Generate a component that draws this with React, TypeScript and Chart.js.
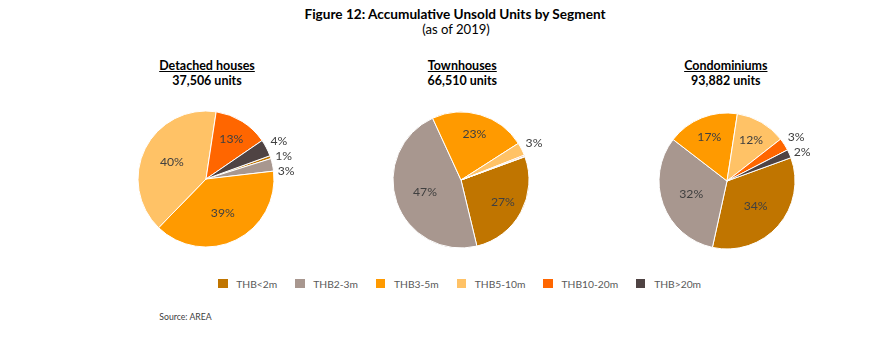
import React, { useEffect, useRef } from "react";
import { Chart, registerables } from "chart.js";

Chart.register(...registerables);

const categories = ["THB<2m", "THB2-3m", "THB3-5m", "THB5-10m", "THB10-20m", "THB>20m"];
const colors = ["#C07500", "#A8978F", "#FF9A00", "#FFC266", "#FF6600", "#4F4343"];
const detachedValues = [0.7, 3, 39, 40, 13, 4];
const townhouseValues = [26.8, 46.9, 22.8, 3.1, 0.3, 0.1];
const condoValues = [34, 32, 17, 12, 3, 2];
const segmentNames = ["Detached houses", "Townhouses", "Condominiums"];
const segmentUnits = ["37,506 units", "66,510 units", "93,882 units"];
const titleText = "Figure 12: Accumulative Unsold Units by Segment";
const subtitleText = "(as of 2019)";
const sourceText = "Source: AREA";

const FAMILY = "Lato";
const ASC = 0.987; // Lato ascent ratio

const measureCtx = document.createElement("canvas").getContext("2d") as CanvasRenderingContext2D;
function fitSize(text: string, weight: number, target: number) {
  measureCtx.font = `${weight} 100px ${FAMILY}`;
  const w = measureCtx.measureText(text).width;
  return (100 * target) / w;
}

const titleSize = fitSize(titleText, 700, 302);
const subtitleSize = fitSize(subtitleText, 400, 68);
const headSize = fitSize("Detached houses", 700, 95.7);
const legendSize = fitSize("THB<2m", 400, 41);
const sourceSize = fitSize(sourceText, 400, 52.7);
const pieLabelSize = fitSize("40%", 400, 24);

const labelPlugin = {
  id: "pctLabels",
  afterDatasetsDraw(chart: any) {
    const ctx = chart.ctx;
    const meta = chart.getDatasetMeta(0);
    const data = chart.data.datasets[0].data as number[];
    const total = data.reduce((a, b) => a + b, 0);
    ctx.save();
    ctx.font = `${pieLabelSize}px ${FAMILY}`;
    ctx.fillStyle = "#404040";
    ctx.textBaseline = "middle";
    ctx.textAlign = "center";
    const outside: { text: string; x: number; y: number }[] = [];
    meta.data.forEach((arc: any, i: number) => {
      const p = arc.getProps(["x", "y", "startAngle", "endAngle", "outerRadius"], true);
      const pct = Math.round((data[i] / total) * 100);
      if (pct < 1) return;
      const mid = (p.startAngle + p.endAngle) / 2;
      const text = pct + "%";
      if (pct >= 10) {
        const r = p.outerRadius * (pct >= 30 ? 0.56 : 0.7);
        ctx.fillText(text, p.x + r * Math.cos(mid), p.y + r * Math.sin(mid));
      } else {
        const r = p.outerRadius + 14;
        outside.push({ text, x: p.x + r * Math.cos(mid), y: p.y + r * Math.sin(mid) });
      }
    });
    outside.sort((a, b) => a.y - b.y);
    for (let k = 1; k < outside.length; k++) {
      if (outside[k].y - outside[k - 1].y < 15) outside[k].y = outside[k - 1].y + 15;
    }
    outside.forEach((o) => ctx.fillText(o.text, o.x, o.y));
    ctx.restore();
  },
};

function Pie({ values, cx, cy }: { values: number[]; cx: number; cy: number }) {
  const ref = useRef<HTMLCanvasElement>(null);
  useEffect(() => {
    const chart = new Chart(ref.current as HTMLCanvasElement, {
      type: "pie",
      data: {
        labels: categories,
        datasets: [
          {
            data: values,
            backgroundColor: colors,
            borderColor: "#ffffff",
            borderWidth: 1,
            hoverOffset: 0,
            offset: 0,
          } as any,
        ],
      },
      options: {
        responsive: false,
        maintainAspectRatio: false,
        animation: false,
        rotation: 70,
        radius: 68,
        layout: { padding: { left: 50, right: 50, top: 20, bottom: 20 } },
        plugins: { legend: { display: false }, tooltip: { enabled: false } },
      } as any,
      plugins: [labelPlugin],
    });
    return () => chart.destroy();
  }, []);
  return (
    <canvas
      ref={ref}
      width={240}
      height={180}
      style={{ position: "absolute", left: cx - 120, top: cy - 90, width: 240, height: 180 }}
    />
  );
}

function Text({
  children,
  cx,
  left,
  baseline,
  size,
  weight = 400,
  color = "#000",
  underline = false,
}: any) {
  const style: any = {
    position: "absolute",
    top: baseline - ASC * size,
    whiteSpace: "nowrap",
    fontFamily: FAMILY,
    fontSize: size,
    fontWeight: weight,
    lineHeight: `${1.2 * size}px`,
    color,
    textDecoration: underline ? "underline" : "none",
  };
  if (cx !== undefined) {
    style.left = cx;
    style.transform = "translateX(-50%)";
  } else {
    style.left = left;
  }
  return <div style={style}>{children}</div>;
}

export default function App() {
  const pies = [
    { values: detachedValues, cx: 205.7, cy: 179, hx: 207 },
    { values: townhouseValues, cx: 461, cy: 179.5, hx: 462.3 },
    { values: condoValues, cx: 726.5, cy: 181, hx: 725.8 },
  ];
  return (
    <div
      style={{
        position: "fixed",
        left: 0,
        top: 0,
        width: 870,
        height: 351,
        background: "#ffffff",
        overflow: "hidden",
      }}
    >
      <Text cx={455} baseline={19.5} size={titleSize} weight={700}>
        {titleText}
      </Text>
      <Text cx={456} baseline={34.5} size={subtitleSize}>
        {subtitleText}
      </Text>
      {pies.map((p, i) => (
        <React.Fragment key={"h" + i}>
          <Text cx={p.hx} baseline={71.8} size={headSize} weight={700} underline>
            {segmentNames[i]}
          </Text>
          <Text cx={p.hx} baseline={86.8} size={headSize} weight={700}>
            {segmentUnits[i]}
          </Text>
        </React.Fragment>
      ))}
      {pies.map((p, i) => (
        <Pie key={"p" + i} values={p.values} cx={p.cx} cy={p.cy} />
      ))}
      <div
        style={{
          position: "absolute",
          left: 218.3,
          top: 278.7,
          display: "flex",
          alignItems: "flex-start",
          whiteSpace: "nowrap",
        }}
      >
        {categories.map((c, i) => (
          <div key={c} style={{ position: "relative", display: "flex", marginRight: 18 }}>
            <span style={{ display: "inline-block", width: 9.3, height: 9.3, background: colors[i], marginRight: 8.7 }} />
            <span
              style={{
                position: "relative",
                top: 9 - ASC * legendSize,
                fontFamily: FAMILY,
                fontSize: legendSize,
                lineHeight: `${1.2 * legendSize}px`,
                height: 10,
                color: "#595959",
              }}
            >
              {c}
            </span>
          </div>
        ))}
      </div>
      <Text left={159.3} baseline={320.6} size={sourceSize} color="#404040">
        {sourceText}
      </Text>
    </div>
  );
}
